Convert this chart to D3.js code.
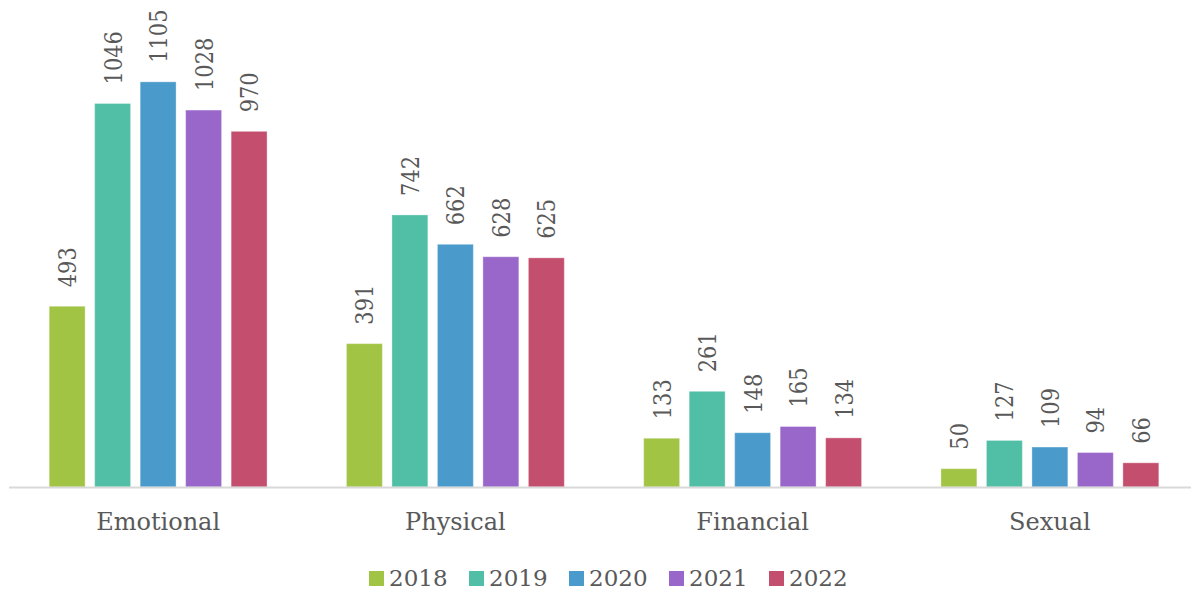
<!DOCTYPE html>
<html><head><meta charset="utf-8">
<script src="https://cdn.jsdelivr.net/npm/d3@7"></script>
<style>body{margin:0;background:#fff}svg{display:block}</style>
</head><body>
<svg id="c" width="1191" height="591"></svg>
<script>
const categories = ["Emotional", "Physical", "Financial", "Sexual"];
const years = ["2018", "2019", "2020", "2021", "2022"];
const v2018 = [493, 391, 133, 50];
const v2019 = [1046, 742, 261, 127];
const v2020 = [1105, 662, 148, 109];
const v2021 = [1028, 628, 165, 94];
const v2022 = [970, 625, 134, 66];
const colors = ["#A2C444", "#50BFA5", "#4A9BCB", "#9966C9", "#C44E6E"];

const series = [v2018, v2019, v2020, v2021, v2022];
const font = "'DejaVu Serif', serif";
const textColor = "#595959";
const svg = d3.select("#c");

const x0 = d3.scaleBand().domain(categories).range([9.5, 1198.5]).paddingInner(0.267).paddingOuter(0.1335);
const x1 = d3.scaleBand().domain(years).range([0, x0.bandwidth()]).paddingInner(0.21).paddingOuter(0);
const y = d3.scaleLinear().domain([0, 1200]).range([487, 47]);
const color = d3.scaleOrdinal().domain(years).range(colors);

const data = [];
categories.forEach((c, i) => years.forEach((yr, j) => data.push({c, yr, v: series[j][i]})));

svg.append("g").selectAll("rect").data(data).join("rect")
  .attr("x", d => x0(d.c) + x1(d.yr))
  .attr("y", d => y(d.v))
  .attr("width", x1.bandwidth())
  .attr("height", d => y(0) - y(d.v))
  .attr("fill", d => color(d.yr))
  .attr("stroke", "rgba(255,255,255,0.35)")
  .attr("stroke-width", 1);

svg.append("g").selectAll("text").data(data).join("text")
  .attr("transform", d => `translate(${x0(d.c) + x1(d.yr) + x1.bandwidth()/2},${y(d.v) - 19}) rotate(-90) scale(1,1.18)`)
  .attr("dy", "0.36em")
  .attr("text-anchor", "start")
  .attr("font-family", font)
  .attr("font-size", 21)
  .attr("fill", textColor)
  .text(d => d.v);

// axis
const xAxis = d3.axisBottom(x0).tickSize(0).tickPadding(0);
const ag = svg.append("g").attr("transform", `translate(0,${y(0)})`).call(xAxis);
ag.select(".domain").attr("d", "M9,0.5H1191").attr("stroke", "#D9D9D9").attr("stroke-width", 2);
ag.selectAll(".tick text").attr("font-family", font).attr("font-size", 24).attr("fill", textColor).attr("dy", 0).attr("y", 43);

// legend
const lg = svg.append("g");
const legendX = d3.scalePoint().domain(years).range([369, 769]);
years.forEach(yr => {
  const g = lg.append("g").attr("transform", `translate(${legendX(yr)},0)`);
  g.append("rect").attr("x", 0).attr("y", 571).attr("width", 15).attr("height", 15).attr("fill", color(yr));
  g.append("text").attr("x", 20).attr("y", 586).attr("font-family", font).attr("font-size", 23).attr("fill", textColor).text(yr);
});
</script>
</body></html>
